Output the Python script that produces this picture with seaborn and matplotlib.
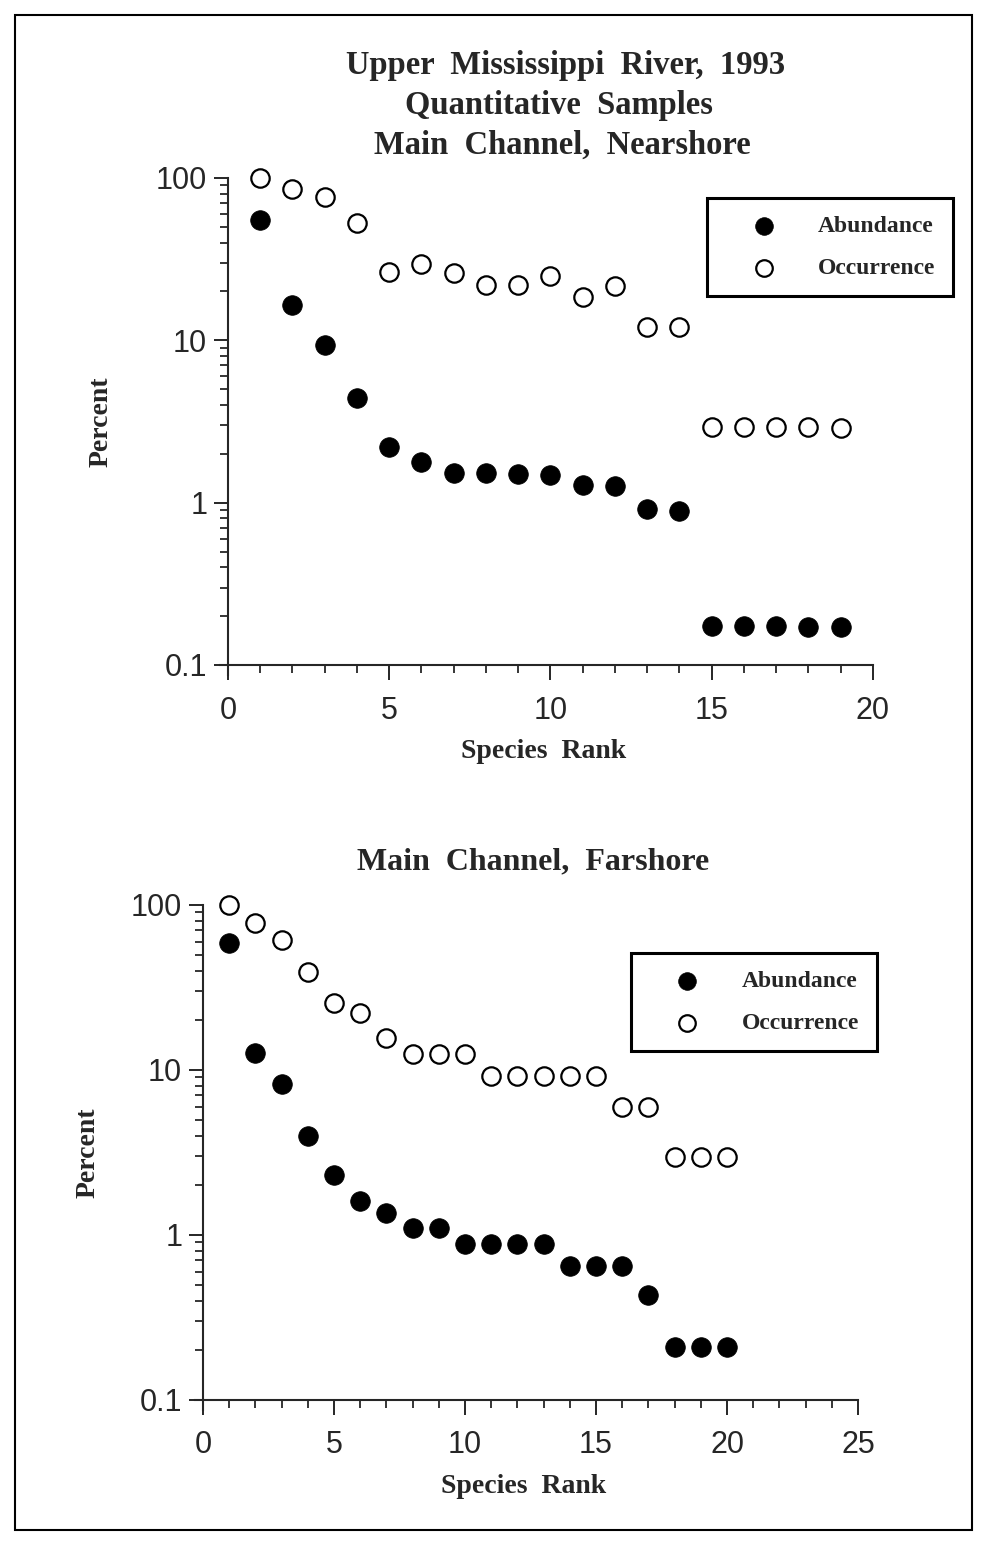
import numpy as np
import pandas as pd
import matplotlib
matplotlib.use("Agg")
import matplotlib.pyplot as plt
import seaborn as sns
from matplotlib.patches import Rectangle

# values (percent, log scale)
near_rank = list(range(1, 20))
near_abund = [55, 16.4, 9.3, 4.4, 2.2, 1.77, 1.53, 1.53, 1.51, 1.49, 1.29, 1.27,
              0.91, 0.89, 0.175, 0.174, 0.173, 0.172, 0.171]
near_occur = [100, 86, 76, 53, 26.5, 29.5, 26, 22, 22, 25, 18.4, 21.5,
              12, 12, 2.94, 2.94, 2.94, 2.94, 2.9]

far_rank = list(range(1, 21))
far_abund = [59, 12.7, 8.2, 4.0, 2.3, 1.6, 1.36, 1.1, 1.1, 0.88, 0.88, 0.88, 0.88,
             0.65, 0.65, 0.65, 0.43, 0.21, 0.21, 0.21]
far_occur = [100, 78, 61, 39, 25.5, 22, 15.6, 12.5, 12.5, 12.5, 9.2, 9.2, 9.2, 9.2, 9.2,
             6.0, 6.0, 2.95, 2.95, 2.95]

yticks = [0.1, 1, 10, 100]
ytick_labels = ["0.1", "1", "10", "100"]

sns.set_style("ticks")
plt.rcParams["font.family"] = ["Liberation Sans", "DejaVu Sans"]

SERIF = ["Liberation Serif", "DejaVu Serif"]

fig = plt.figure(figsize=(9.89, 15.45), dpi=100)

# page frame
fig.add_artist(Rectangle((0.0152, 0.0097), 0.9677, 0.9806, transform=fig.transFigure,
                         fill=False, edgecolor="black", linewidth=1.5))

ax1 = fig.add_axes([0.2305, 0.5696, 0.6522, 0.3152])
ax2 = fig.add_axes([0.2053, 0.0939, 0.6623, 0.3204])


def panel(ax, rank, abund, occur, xmax, legend_anchor):
    df = pd.DataFrame({"rank": rank, "abund": abund, "occur": occur})
    sns.scatterplot(data=df, x="rank", y="abund", ax=ax, s=200, color="black",
                    edgecolor="black", linewidth=0.5, label="Abundance", zorder=3)
    sns.scatterplot(data=df, x="rank", y="occur", ax=ax, s=175, facecolor="white",
                    edgecolor="black", linewidth=1.6, label="Occurrence", zorder=3)
    for c in ax.collections:
        c.set_clip_on(False)
    ax.set_yscale("log")
    ax.set_ylim(0.1, 100)
    ax.set_xlim(0, xmax)
    ax.set_xticks(np.arange(0, xmax + 1, 5))
    ax.set_xticks(np.arange(0, xmax + 1, 1), minor=True)
    ax.set_yticks(yticks, labels=ytick_labels)
    sns.despine(ax=ax)
    for s in ["left", "bottom"]:
        ax.spines[s].set_linewidth(1.5)
    # axes cross slightly at the origin, as in the original
    ax.spines["left"].set_bounds(0.087, 100)
    ax.spines["bottom"].set_bounds(-0.012 * xmax, xmax)
    ax.tick_params(axis="both", which="major", length=10, width=1.4, labelsize=22)
    ax.tick_params(axis="x", which="major", length=11, pad=11)
    ax.tick_params(axis="y", which="major", pad=5)
    ax.tick_params(axis="both", which="minor", length=5.5, width=1.3)
    ax.set_xlabel("Species  Rank", family=SERIF, fontsize=20, fontweight="bold")
    ax.set_ylabel("Percent", family=SERIF, fontsize=20, fontweight="bold")
    leg = ax.legend(loc="upper left", bbox_to_anchor=legend_anchor, frameon=True,
                    fancybox=False, prop={"family": SERIF, "weight": "bold", "size": 17},
                    borderpad=0.75, handlelength=3.3, handletextpad=0.65,
                    labelspacing=0.85, markerscale=0.9, borderaxespad=0)
    leg.get_frame().set_edgecolor("black")
    leg.get_frame().set_linewidth(2.2)
    leg.get_frame().set_alpha(1)


panel(ax1, near_rank, near_abund, near_occur, 20, (0.743, 0.959))
panel(ax2, far_rank, far_abund, far_occur, 25, (0.653, 0.903))

ax1.xaxis.set_label_coords(0.49, -0.152)
ax1.yaxis.set_label_coords(-0.178, 0.5)
ax2.xaxis.set_label_coords(0.49, -0.149)
ax2.yaxis.set_label_coords(-0.156, 0.5)

title_kw = dict(ha="center", va="center", family=SERIF, fontweight="bold")
fig.text(0.572, 0.9573, "Upper  Mississippi  River,  1993", fontsize=23.5, **title_kw)
fig.text(0.565, 0.9320, "Quantitative  Samples", fontsize=23.5, **title_kw)
fig.text(0.569, 0.9061, "Main  Channel,  Nearshore", fontsize=23.5, **title_kw)
fig.text(0.539, 0.4421, "Main  Channel,  Farshore", fontsize=23, **title_kw)

fig.savefig("out.png", dpi=100)
